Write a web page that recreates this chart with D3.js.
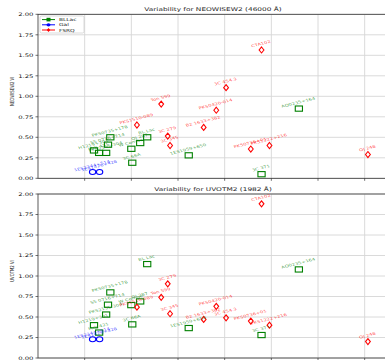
<!DOCTYPE html>
<html>
<head>
<meta charset="utf-8">
<script src="https://cdn.jsdelivr.net/npm/d3@7"></script>
<style>
  body { margin: 0; background: #fff; }
  text { font-family: "DejaVu Sans", sans-serif; }
</style>
</head>
<body>
<div id="chart"></div>
<script>
// sources, their class and a shared x position
const names = ['PKS0735+178', 'S5 0716+714', 'PKS2155-304', 'H1219+301', 'Mrk 421', 'W Comae', 'OJ 287',
  '3C 66A', 'BL Lac', '1ES1959+650', 'AO0235+164', '3C 371',
  'Ton 599', 'PKS1510-089', '3C 279', '3C 345', 'CTA102', '3C 454.3', 'PKS0420-014', 'B2 1633+382',
  'PKS0736+01', 'PKS1222+216', 'OJ 248',
  '1ES2344+514', '1ES1426+428'];
const srcClass = ['BLLac', 'BLLac', 'BLLac', 'BLLac', 'BLLac', 'BLLac', 'BLLac',
  'BLLac', 'BLLac', 'BLLac', 'BLLac', 'BLLac',
  'FSRQ', 'FSRQ', 'FSRQ', 'FSRQ', 'FSRQ', 'FSRQ', 'FSRQ', 'FSRQ',
  'FSRQ', 'FSRQ', 'FSRQ',
  'Gal', 'Gal'];
const xPos = [1.55, 1.50, 1.46, 1.20, 1.31, 2.00, 2.19,
  2.02, 2.34, 3.23, 5.59, 4.79,
  2.64, 2.12, 2.78, 2.83, 4.79, 4.03, 3.82, 3.55,
  4.56, 4.96, 7.07,
  1.17, 1.32];
const varW2 = [0.50, 0.41, 0.31, 0.34, 0.31, 0.36, 0.43,
  0.19, 0.50, 0.28, 0.85, 0.05,
  0.905, 0.65, 0.515, 0.40, 1.565, 1.105, 0.83, 0.62,
  0.357, 0.40, 0.29,
  0.077, 0.077];
const varM2 = [0.80, 0.65, 0.53, 0.40, 0.31, 0.645, 0.69,
  0.41, 1.145, 0.365, 1.08, 0.28,
  0.74, 0.62, 0.905, 0.54, 1.88, 0.49, 0.63, 0.47,
  0.45, 0.40, 0.20,
  0.228, 0.228];
const classes = ['BLLac', 'Gal', 'FSRQ'];
const yTicks = [0, 0.25, 0.5, 0.75, 1.0, 1.25, 1.5, 1.75, 2.0];
const xGrid = [1, 2, 3, 4, 5, 6, 7];
const panels = [
  { title: 'Variability for NEOWISEW2 (46000 Å)', ylabel: 'NEOWISEW2 VI', values: varW2 },
  { title: 'Variability for UVOTM2 (1982 Å)', ylabel: 'UVOTM2 VI', values: varM2 }
];

const W = 385, H = 360;
const color = d3.scaleOrdinal().domain(classes).range(['#008000', '#0000ff', '#ff0000']);
const SQ = 0.7; // vertical squash of the picture

const svg = d3.select('#chart').append('svg').attr('width', W).attr('height', H);

const x = d3.scaleLinear().domain([0, 7.5]).range([38, 388]);
const tops = [14.3, 194];
const ph = 164;

// text helper: squashed vertically
function sText(g, tx, ty, str, size, anchor, rot, fill) {
  return g.append('text')
    .attr('transform', `translate(${tx},${ty}) scale(1,${SQ}) rotate(${rot || 0})`)
    .attr('text-anchor', anchor)
    .attr('font-size', size)
    .attr('fill', fill || '#222')
    .text(str);
}

function marker(g, cls, px, py) {
  const c = color(cls);
  if (cls === 'BLLac') {
    g.append('rect').attr('x', px - 3.6).attr('y', py - 2.6).attr('width', 7.2).attr('height', 5.2)
      .attr('fill', 'none').attr('stroke', c).attr('stroke-width', 1.1);
  } else if (cls === 'Gal') {
    g.append('ellipse').attr('cx', px).attr('cy', py).attr('rx', 3.2).attr('ry', 2.5)
      .attr('fill', 'none').attr('stroke', c).attr('stroke-width', 1.1);
  } else {
    g.append('path').attr('d', `M${px},${py - 3}L${px + 2.4},${py}L${px},${py + 3}L${px - 2.4},${py}Z`)
      .attr('fill', 'none').attr('stroke', c).attr('stroke-width', 1.1);
  }
}

panels.forEach((p, k) => {
  const top = tops[k];
  const y = d3.scaleLinear().domain([0, 2]).range([top + ph, top]);
  const g = svg.append('g');

  // grid
  g.selectAll('.hg').data(yTicks).enter().append('line')
    .attr('x1', x(0)).attr('x2', x(7.5)).attr('y1', d => y(d)).attr('y2', d => y(d))
    .attr('stroke', '#d6d6d6').attr('stroke-width', 0.9);
  g.selectAll('.vg').data(xGrid).enter().append('line')
    .attr('x1', d => x(d)).attr('x2', d => x(d)).attr('y1', y(0)).attr('y2', y(2))
    .attr('stroke', '#d6d6d6').attr('stroke-width', 0.9);

  // frame
  g.append('rect').attr('x', x(0)).attr('y', y(2)).attr('width', x(7.5) - x(0)).attr('height', ph)
    .attr('fill', 'none').attr('stroke', '#333').attr('stroke-width', 0.8);

  // y ticks
  yTicks.forEach(t => {
    g.append('line').attr('x1', x(0) - 2.5).attr('x2', x(0)).attr('y1', y(t)).attr('y2', y(t))
      .attr('stroke', '#333').attr('stroke-width', 0.7);
    sText(g, x(0) - 4.5, y(t) + 1.7, d3.format('.2f')(t), 6.9, 'end');
  });
  // x ticks
  xGrid.forEach(t => {
    g.append('line').attr('x1', x(t)).attr('x2', x(t)).attr('y1', y(0)).attr('y2', y(0) + 2.5)
      .attr('stroke', '#333').attr('stroke-width', 0.7);
  });

  sText(g, 213, top - 3, p.title, 7.4, 'middle');
  sText(g, 13.5, top + ph / 2 - 5, p.ylabel, 5.5, 'middle', -90);

  // points and labels
  names.forEach((n, i) => {
    const px = x(xPos[i]), py = y(p.values[i]);
    marker(g, srcClass[i], px, py);
  });
  names.forEach((n, i) => {
    const px = x(xPos[i]), py = y(p.values[i]);
    sText(g, px, py - 5, n, 5.3, 'middle', -20, color(srcClass[i])).attr('fill-opacity', 0.72);
  });

  // legend
  if (k === 0) {
    const lg = g.append('g');
    lg.append('rect').attr('x', 40).attr('y', 16).attr('width', 44).attr('height', 17).attr('rx', 1.5)
      .attr('fill', '#fff').attr('fill-opacity', 0.85).attr('stroke', '#ccc').attr('stroke-width', 0.7);
    classes.forEach((c, j) => {
      const ly = 19.6 + j * 5.2;
      lg.append('line').attr('x1', 42).attr('x2', 55).attr('y1', ly).attr('y2', ly)
        .attr('stroke', color(c)).attr('stroke-width', 1);
      if (c === 'BLLac') {
        lg.append('rect').attr('x', 46.5).attr('y', ly - 1.8).attr('width', 4).attr('height', 3.6).attr('fill', color(c));
      } else if (c === 'Gal') {
        lg.append('ellipse').attr('cx', 48.5).attr('cy', ly).attr('rx', 2).attr('ry', 1.6).attr('fill', color(c));
      } else {
        lg.append('path').attr('d', `M48.5,${ly - 2}L50.2,${ly}L48.5,${ly + 2}L46.8,${ly}Z`).attr('fill', color(c));
      }
      sText(lg, 59, ly + 1.5, c, 5.9, 'start');
    });
  }
});
</script>
</body>
</html>
